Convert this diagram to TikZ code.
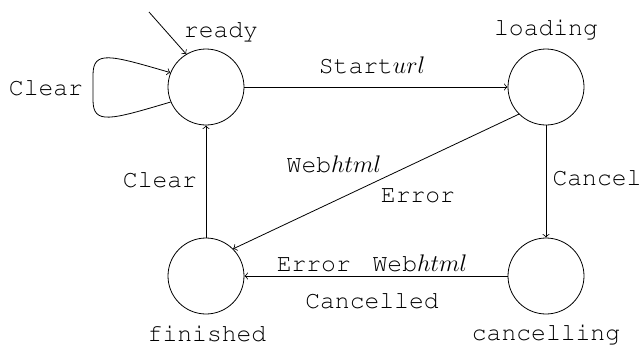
\documentclass[tikz,border=0pt]{standalone}
\usepackage[T1]{fontenc}
\begin{document}
\begin{tikzpicture}[x=0.5pt,y=-0.5pt,
  state/.style={circle,draw,minimum size=38pt,inner sep=0pt},
  lbl/.style={font=\fontencoding{T1}\fontfamily{pcr}\fontsize{12.35}{14}\selectfont,inner sep=0pt,anchor=base},
  trans/.style={->}]
\useasboundingbox (0,0) rectangle (644,345);
\node[state] (ready) at (206,87) {};
\node[state] (loading) at (546,87) {};
\node[state] (finished) at (206,276) {};
\node[state] (cancelling) at (546,276) {};
\coordinate (init) at (149,12);
% state names
\node[lbl] (readyL) at (221,37) {ready};
\node[lbl] (loadingL) at (546,35) {loading};
\node[lbl] (finishedL) at (207,341) {finished};
\node[lbl] (cancellingL) at (546,340) {cancelling};
% transitions
\draw[trans] (init) -- (ready.121);
\draw[trans] (ready) -- (loading);
\draw[trans] (loading) -- (cancelling);
\draw[trans] (cancelling) -- (finished);
\draw[trans] (finished) -- (ready);
\draw[trans] (loading.south west) -- (finished.north east);
\draw[trans] (ready.203) .. controls (110,120) and (93,125) .. (93,100) -- (93,75) .. controls (93,50) and (110,55) .. (ready.158);
% transition labels
\node[lbl] (startL) at (372,73) {Start$url$};
\node[lbl] (clearLoopL) at (46,95) {Clear};
\node[lbl] (clearL) at (160,187) {Clear};
\node[lbl] (webL) at (334,172) {Web$html$};
\node[lbl] (errorL) at (418,202) {Error};
\node[lbl] (cancelL) at (597,185) {Cancel};
\node[lbl] (errWebL) at (372,271) {Error\ \hspace{3.5pt}Web$html$};
\node[lbl] (cancelledL) at (372,308) {Cancelled};
\end{tikzpicture}
\end{document}
